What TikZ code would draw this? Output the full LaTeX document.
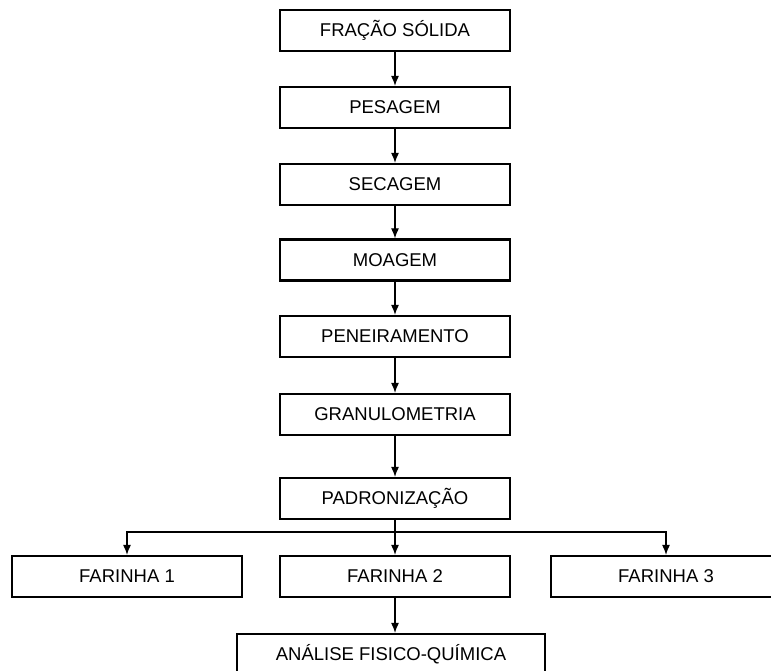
\documentclass[tikz,border=0pt]{standalone}
\usepackage{fontspec}
\setmainfont{Liberation Sans}
\usetikzlibrary{arrows.meta}
\begin{document}
\begin{tikzpicture}[x=1pt,y=-1pt,
  box/.style={draw=black, line width=2.2pt, fill=white, minimum width=230pt, minimum height=41pt,
    inner sep=0pt, font=\fontsize{18.5}{21}\selectfont},
  wide/.style={box, minimum width=308pt},
  conn/.style={line width=1.2pt, -{Latex[length=10pt,width=8pt]}},
  plain/.style={line width=1.5pt}]
\useasboundingbox (0,0) rectangle (771,671);
\node[box] (fs) at (395,30.5) {FRAÇÃO SÓLIDA};
\node[box] (pe) at (395,107.5) {PESAGEM};
\node[box] (se) at (395,184.5) {SECAGEM};
\node[box] (mo) at (395,260) {MOAGEM};
\node[box] (pn) at (395,336.5) {PENEIRAMENTO};
\node[box] (gr) at (395,414.5) {GRANULOMETRIA};
\node[box] (pa) at (395,498.5) {PADRONIZAÇÃO};
\node[box] (f1) at (127,576.5) {FARINHA 1};
\node[box] (f2) at (395,576.5) {FARINHA 2};
\node[box] (f3) at (666,576.5) {FARINHA 3};
\node[wide] (an) at (391,654.5) {ANÁLISE FISICO-QUÍMICA};
\coordinate (j) at (395,532);
\draw[conn] (fs) -- (pe);
\draw[conn] (pe) -- (se);
\draw[conn] (se) -- (mo);
\draw[conn] (mo) -- (pn);
\draw[conn] (pn) -- (gr);
\draw[conn] (gr) -- (pa);
\draw[plain] (pa) -- (j);
\draw[conn] (j) -- (f2);
\draw[conn] (j) -| (f1);
\draw[conn] (j) -| (f3);
\draw[conn] (f2.south) -- (f2.south |- an.north);
\end{tikzpicture}
\end{document}
